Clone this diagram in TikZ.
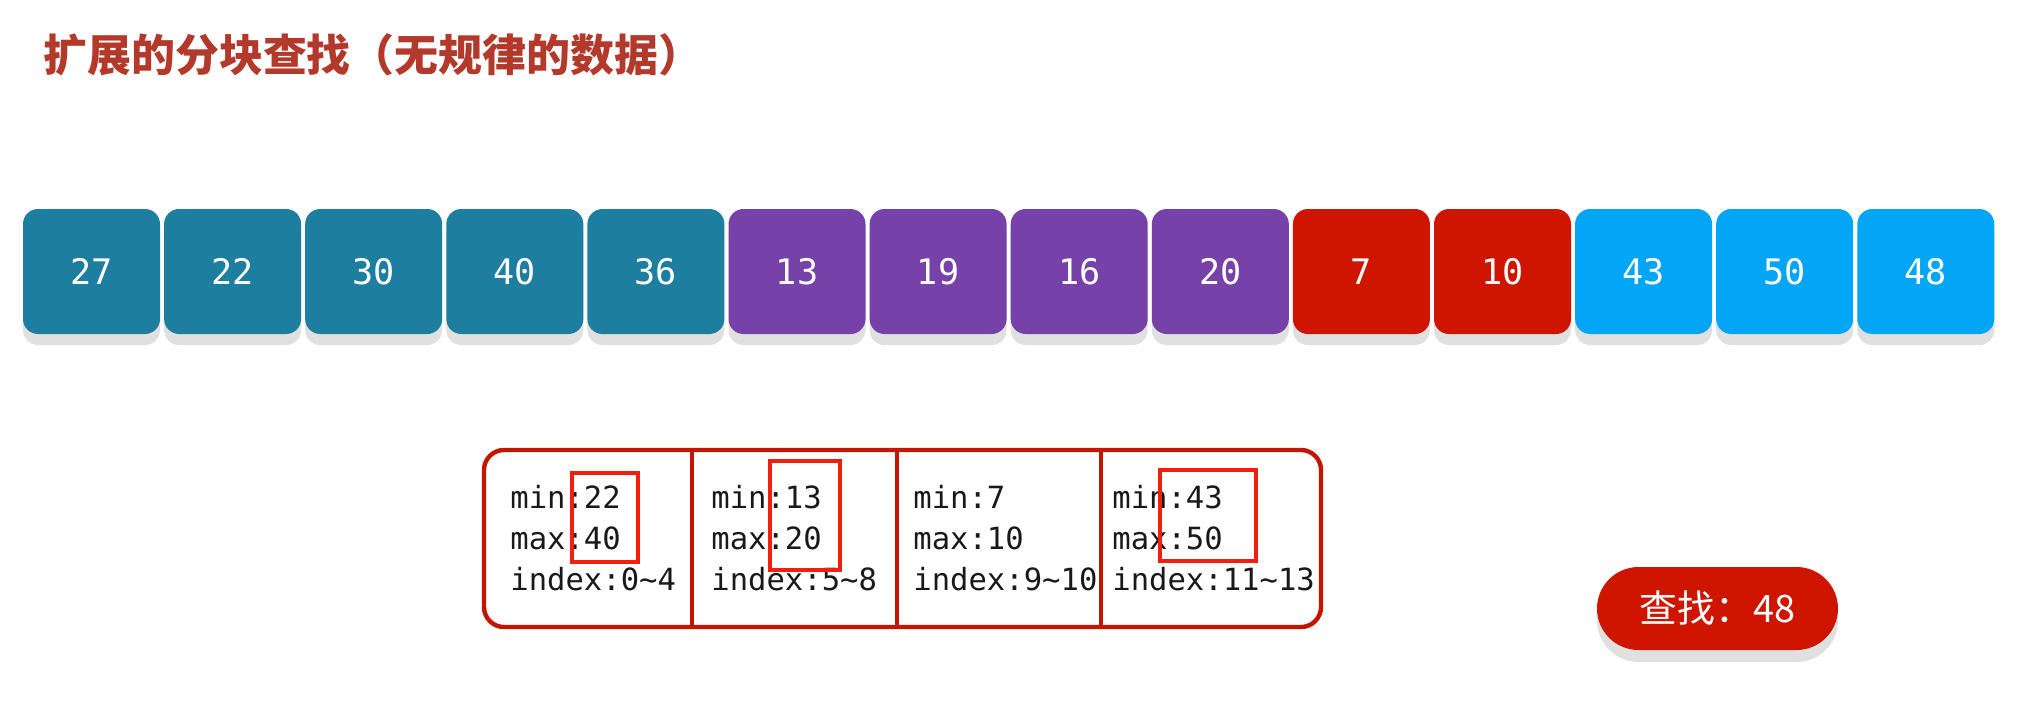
\documentclass[tikz,border=0pt]{standalone}
\usepackage{fontspec}
\setmainfont{DejaVu Sans}
\newfontfamily\cjkfont{Noto Sans CJK SC}
\newfontfamily\numfont{DejaVu Sans Mono}
\usepackage{xcolor}
\usepackage{tikz}
\usetikzlibrary{positioning, shadows}

\definecolor{titlered}{HTML}{B3392B}
\definecolor{blkteal}{HTML}{1D7EA0}
\definecolor{blkpurple}{HTML}{7641A9}
\definecolor{blkred}{HTML}{CD1500}
\definecolor{blksky}{HTML}{03A6F4}
\definecolor{tblred}{HTML}{C41500}
\definecolor{hlred}{HTML}{F21E0E}

\tikzset{
  %% Array cell
  numbox/.style={
    rectangle, rounded corners=0.3cm,
    fill=#1, text=white, outer sep=0pt,
    minimum width=2.74cm, minimum height=2.5cm,
    font=\numfont\fontsize{20}{23}\selectfont,
    general shadow={fill=black!12, shadow yshift=-0.22cm}
  },
  numbox/.default=blkteal,
  %% Index table frame
  tblline/.style={draw=tblred, line width=2.5pt},
  %% Block info text
  blkinfo/.style={
    anchor=west, inner sep=0pt, align=left, text=black!90,
    font=\numfont\fontsize{17.4}{23.3}\selectfont
  },
  %% Highlight rectangle
  hlbox/.style={draw=hlred, line width=2pt},
  %% Search button
  findbtn/.style={
    rectangle, rounded corners=0.83cm,
    fill=blkred, text=white,
    minimum width=4.82cm, minimum height=1.66cm,
    font=\cjkfont\fontsize{21.5}{24}\selectfont,
    general shadow={fill=black!12, shadow yshift=-0.24cm}
  },
}

\begin{document}
\begin{tikzpicture}
  \useasboundingbox (0,0) rectangle (40.46,-14.22);

  %% Title
  \node[anchor=west, inner sep=0pt, text=titlered,
        font=\cjkfont\bfseries\fontsize{25}{29}\selectfont] (title) at (0.86,-1.1)
       {扩展的分块查找（无规律的数据）};

  %% Data array
  \node[numbox=blkteal]                     (n1) at (1.83,-5.43) {27};
  \node[numbox=blkteal,   right=0.082cm of n1]  (n2)  {22};
  \node[numbox=blkteal,   right=0.082cm of n2]  (n3)  {30};
  \node[numbox=blkteal,   right=0.082cm of n3]  (n4)  {40};
  \node[numbox=blkteal,   right=0.082cm of n4]  (n5)  {36};
  \node[numbox=blkpurple, right=0.082cm of n5]  (n6)  {13};
  \node[numbox=blkpurple, right=0.082cm of n6]  (n7)  {19};
  \node[numbox=blkpurple, right=0.082cm of n7]  (n8)  {16};
  \node[numbox=blkpurple, right=0.082cm of n8]  (n9)  {20};
  \node[numbox=blkred,    right=0.082cm of n9]  (n10) {7};
  \node[numbox=blkred,    right=0.082cm of n10] (n11) {10};
  \node[numbox=blksky,    right=0.082cm of n11] (n12) {43};
  \node[numbox=blksky,    right=0.082cm of n12] (n13) {50};
  \node[numbox=blksky,    right=0.082cm of n13] (n14) {48};

  %% Index table
  \draw[tblline, rounded corners=0.4cm] (9.68,-9.0) rectangle (26.42,-12.54);
  \draw[tblline] (13.84,-9.0) -- (13.84,-12.54);
  \draw[tblline] (17.94,-9.0) -- (17.94,-12.54);
  \draw[tblline] (22.02,-9.0) -- (22.02,-12.54);

  \node[blkinfo] (info1) at (10.2,-10.77)
       {min:22\\max:40\\index:0\textasciitilde4};
  \node[blkinfo] (info2) at (14.22,-10.77)
       {min:13\\max:20\\index:5\textasciitilde8};
  \node[blkinfo] (info3) at (18.26,-10.77)
       {min:7\\max:10\\index:9\textasciitilde10};
  \node[blkinfo] (info4) at (22.24,-10.77)
       {min:43\\max:50\\index:11\textasciitilde13};

  %% Highlights
  \draw[hlbox] (11.44,-9.46) rectangle (12.76,-11.24);
  \draw[hlbox] (15.4,-9.22)  rectangle (16.8,-11.4);
  \draw[hlbox] (23.2,-9.4)   rectangle (25.12,-11.22);

  %% Search button
  \node[findbtn] (find) at (34.35,-12.17) {查找：48};

\end{tikzpicture}
\end{document}
